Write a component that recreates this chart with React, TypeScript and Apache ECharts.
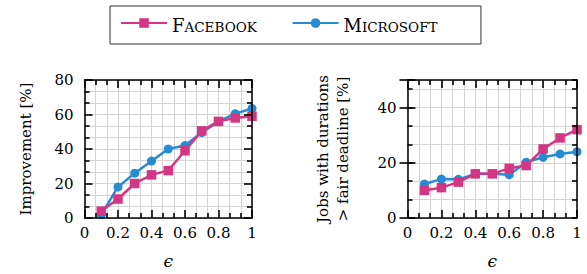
import React, { useEffect, useRef } from "react";
import * as echarts from "echarts";

// ---- data ----
const epsilon = [0.1, 0.2, 0.3, 0.4, 0.5, 0.6, 0.7, 0.8, 0.9, 1.0];
const facebookImprovement = [4, 11, 20, 25, 27.5, 39, 50.5, 56, 58, 59];
const microsoftImprovement = [2, 18, 26, 33, 40, 42, 49.5, 56, 60.5, 63.5];
const facebookLate = [10, 11, 13, 16, 16, 18, 19, 25, 29, 32];
const microsoftLate = [12.3, 14.1, 14, 16, 16, 15.7, 20.2, 22, 23.2, 24];
const seriesNames = ["Facebook", "Microsoft"];
const xLabelValues = [0, 0.2, 0.4, 0.6, 0.8, 1];

const MAGENTA = "#d33682";
const BLUE = "#268bd2";
const FONT = "DejaVu Serif";
const FS = 15;

const axisLine = () => ({ show: true, onZero: false, lineStyle: { color: "#000", width: 1.5 } });
const tick = (len: number) => ({ show: true, inside: true, length: len, lineStyle: { color: "#000", width: 1.6 } });
const minor = () => ({ show: true, splitNumber: 3, length: 5, lineStyle: { color: "#000", width: 1.6 } });
const gl = () => ({ color: "#d4d4d4", width: 1 });
const lab = () => ({ color: "#000", fontFamily: FONT, fontSize: FS });

const fmtX = (v: number) => {
  const r = Number(v.toFixed(2));
  return xLabelValues.some((t) => Math.abs(t - r) < 1e-6) ? String(r) : "";
};
const fmtY20 = (v: number) => {
  const k = Math.round(v / 20);
  return Math.abs(v - k * 20) < 0.01 ? String(k * 20) : "";
};

function gridAxis(g: number, pos: string, min: number, max: number, interval: number, minorLines: boolean): any {
  return {
    type: "value", gridIndex: g, position: pos, min, max, interval, z: 0,
    axisLine: { show: false }, axisTick: { show: false }, axisLabel: { show: false },
    splitLine: { show: true, lineStyle: gl() },
    minorTick: { show: false, splitNumber: 3 },
    minorSplitLine: { show: minorLines, lineStyle: gl() },
  };
}

function frameAxis(g: number, pos: string, min: number, max: number, interval: number, opts: any): any {
  return {
    type: "value", gridIndex: g, position: pos, min, max, interval, z: 10,
    axisLine: opts.line === false ? { show: false } : axisLine(),
    axisTick: tick(opts.tickLen ?? 8),
    minorTick: opts.minor === false ? { show: false } : minor(),
    splitLine: { show: false },
    axisLabel: opts.label ? { ...lab(), ...opts.label } : { show: false },
    ...(opts.name ? { name: opts.name, nameLocation: "middle", nameGap: opts.nameGap, nameTextStyle: opts.nameStyle } : {}),
  };
}

const xAxes = [0, 1].flatMap((g) => [
  gridAxis(g, "bottom", 0, 1, 0.2, true),
  frameAxis(g, "bottom", 0, 1, 0.2, {
    label: { margin: 7, formatter: fmtX },
    name: "\u03f5",
    nameGap: 34,
    nameStyle: { ...lab(), fontStyle: "italic", fontSize: 17 },
  }),
  frameAxis(g, "top", 0, 1, 0.2, {}),
]);

const yAxes = [
  // left chart: 0 grid, 1 left frame, 2 right frame
  gridAxis(0, "left", 0, 80, 20, true),
  frameAxis(0, "left", 0, 80, 20, {
    label: { margin: 11 },
    name: "Improvement [%]",
    nameGap: 51,
    nameStyle: lab(),
  }),
  frameAxis(0, "right", 0, 80, 20, {}),
  // right chart: 3 grid, 4 left minor, 5 left major, 6 right minor, 7 right major
  gridAxis(1, "left", 0, 50, 20 / 3, false),
  frameAxis(1, "left", 0, 50, 20 / 3, { tickLen: 5, minor: false }),
  frameAxis(1, "left", 0, 50, 20, {
    line: false,
    minor: false,
    label: { margin: 11, formatter: fmtY20 },
    name: "Jobs with durations\n> fair deadline [%]",
    nameGap: 55,
    nameStyle: { ...lab(), lineHeight: 20 },
  }),
  frameAxis(1, "right", 0, 50, 20 / 3, { tickLen: 5, minor: false }),
  frameAxis(1, "right", 0, 50, 20, { line: false, minor: false }),
];

function lineSeries(name: string, xs: number[], ys: number[], xi: number, yi: number): any {
  const isFb = name === seriesNames[0];
  const color = isFb ? MAGENTA : BLUE;
  return {
    type: "line",
    name,
    xAxisIndex: xi,
    yAxisIndex: yi,
    data: xs.map((x, i) => [x, ys[i]]),
    symbol: isFb ? "rect" : "circle",
    symbolSize: isFb ? 9.5 : 9,
    clip: false,
    lineStyle: { color, width: 2.5 },
    itemStyle: { color },
  };
}

export default function App() {
  const ref = useRef<HTMLDivElement>(null);
  useEffect(() => {
    if (!ref.current) return;
    const chart = echarts.init(ref.current, undefined, { renderer: "svg" });
    chart.setOption({
      animation: false,
      backgroundColor: "#fff",
      legend: {
        top: 6,
        left: "center",
        data: seriesNames,
        itemWidth: 46,
        itemHeight: 12,
        itemGap: 8,
        padding: [10, 14, 10, 10],
        borderColor: "#333",
        borderWidth: 1,
        borderRadius: 0,
        selectedMode: false,
        formatter: (name: string) =>
          `{b|${name.charAt(0).toUpperCase()}}{${name === seriesNames[0] ? "sf" : "sm"}|${name
            .slice(1)
            .toUpperCase()}}`,
        textStyle: {
          color: "#000",
          fontFamily: FONT,
          rich: {
            b: { fontFamily: FONT, fontSize: 18, color: "#000", verticalAlign: "bottom", lineHeight: 22 },
            sf: { fontFamily: FONT, fontSize: 13.5, color: "#000", verticalAlign: "bottom", lineHeight: 22, width: 99 },
            sm: { fontFamily: FONT, fontSize: 13.5, color: "#000", verticalAlign: "bottom", lineHeight: 22, width: 105 },
          },
        },
      },
      grid: [
        { left: 84.5, top: 80, width: 167.5, height: 139.5 },
        { left: 407.5, top: 80, width: 169.5, height: 139.5 },
      ],
      xAxis: xAxes,
      yAxis: yAxes,
      series: [
        lineSeries(seriesNames[1], epsilon, microsoftImprovement, 1, 1),
        lineSeries(seriesNames[0], epsilon, facebookImprovement, 1, 1),
        lineSeries(seriesNames[1], epsilon, microsoftLate, 4, 5),
        lineSeries(seriesNames[0], epsilon, facebookLate, 4, 5),
      ],
    });
    return () => chart.dispose();
  }, []);
  return (
    <div
      ref={ref}
      style={{ position: "absolute", left: 0, top: 0, width: 587, height: 274 }}
    />
  );
}
